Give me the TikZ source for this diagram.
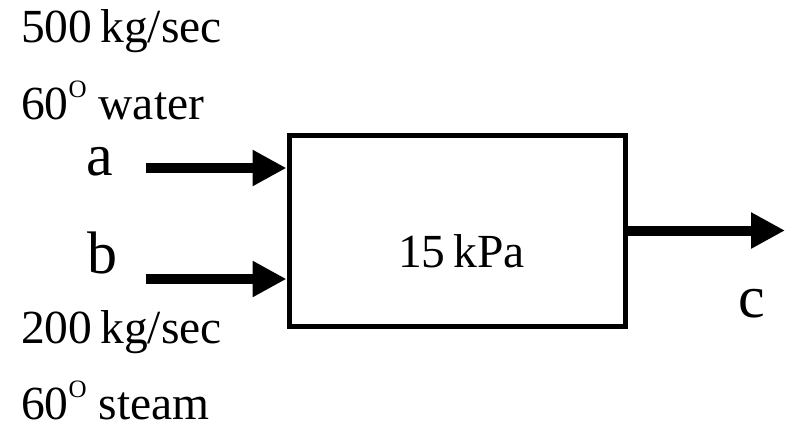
\documentclass[tikz,border=0pt]{standalone}
\usepackage{fontspec}
\setmainfont{Liberation Serif}
\usetikzlibrary{arrows.meta}
\tikzset{
  txt/.style={anchor=base west, inner sep=0pt, font=\fontsize{47.5}{47.5}\selectfont},
  letter/.style={anchor=base west, inner sep=0pt, font=\fontsize{60}{60}\selectfont},
  flow/.style={line width=10pt, -{Triangle[length=34pt,width=34pt]}},
  unit/.style={draw, line width=5pt, minimum width=336pt, minimum height=191pt, inner sep=0pt}
}
\newcommand{\degO}{\raisebox{22pt}{\fontsize{25}{25}\selectfont O}}
\begin{document}
\begin{tikzpicture}[x=1pt,y=-1pt]
\useasboundingbox (0,0) rectangle (786,426);
\node[unit] (box) at (457,230.5) {};
\node[txt] (p) at (398,267) {15\,kPa};
\node[txt] (m1) at (21,42) {500\,kg/sec};
\node[txt] (t1) at (21,119) {60\degO{} water};
\node[txt] (m2) at (21,343) {200\,kg/sec};
\node[txt, text depth=0pt] (t2) at (21,419) {60\degO{} steam};
\node[letter] (la) at (86,175) {a};
\node[letter] (lb) at (87,273) {b};
\node[letter] (lc) at (738,317) {c};
\coordinate (a0) at (146,168);
\coordinate (b0) at (146,279);
\coordinate (c1) at (785,230.5);
\draw[flow] (a0) -- (a0 -| box.west);
\draw[flow] (b0) -- (b0 -| box.west);
\draw[flow] (box.east) -- (c1);
\end{tikzpicture}
\end{document}
